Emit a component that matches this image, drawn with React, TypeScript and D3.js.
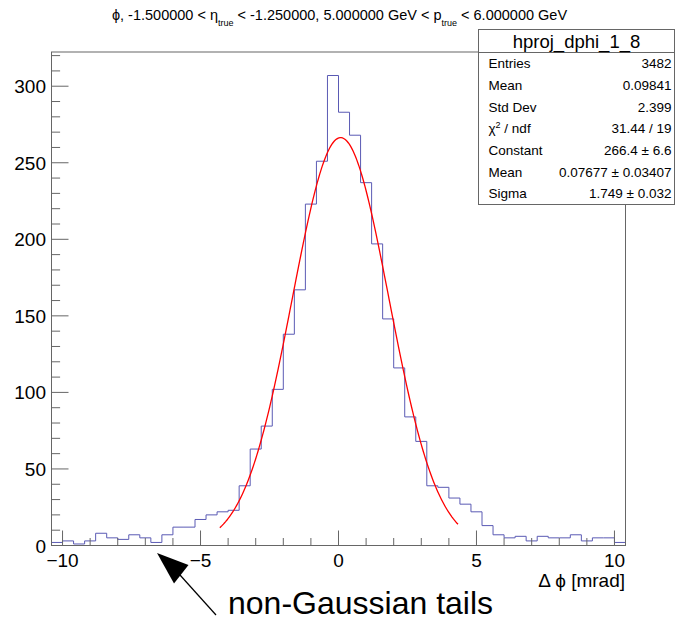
import React from "react";
import * as d3 from "d3";

// ---- data ----
const xMin = -10.4;
const xMax = 10.4;
const binWidth = 0.4;
const counts = [
  2, 3, 1, 3, 8, 5, 4, 7, 5, 2, 7, 12, 12, 17, 20, 22, 23, 39, 63, 78, 102, 138,
  167, 223, 251, 307, 283, 268, 237, 197, 148, 116, 84, 68, 39, 38, 31, 27, 22,
  13, 7, 5, 6, 3, 6, 5, 5, 7, 3, 5, 5, 2,
];
const yMax = 322.35;
const yMajorTicks = [0, 50, 100, 150, 200, 250, 300];
const xMajorTicks = [-10, -5, 0, 5, 10];
const xTickLabels = ["\u221210", "\u22125", "0", "5", "10"];

const fitConstant = 266.4;
const fitMean = 0.07677;
const fitSigma = 1.749;
const fitRange = [-4.3, 4.33];

const statsTitle = "hproj_dphi_1_8";
const statsLabels = ["Entries", "Mean", "Std Dev", "CHI", "Constant", "Mean", "Sigma"];
const statsValues = [
  "3482",
  "0.09841",
  "2.399",
  "31.44 / 19",
  "266.4 \u00b1 6.6",
  "0.07677 \u00b1 0.03407",
  "1.749 \u00b1 0.032",
];

const W = 676;
const H = 621;
const FONT = "'Liberation Sans', Arial, Helvetica, sans-serif";

export default function App() {
  const frame = { left: 51.5, right: 625.5, top: 52, bottom: 545.5 };
  const x = d3.scaleLinear().domain([xMin, xMax]).range([frame.left, frame.right]);
  const y = d3.scaleLinear().domain([0, yMax]).range([frame.bottom, frame.top]);

  const pts: [number, number][] = [];
  counts.forEach((c, i) => {
    const lo = xMin + i * binWidth;
    pts.push([lo, c]);
    pts.push([lo + binWidth, c]);
  });
  const line = d3
    .line<[number, number]>()
    .x((d) => x(d[0]))
    .y((d) => y(d[1]));
  const histPath = line(pts) || "";

  const fitPts: [number, number][] = d3
    .range(0, 201)
    .map((k) => {
      const xv = fitRange[0] + ((fitRange[1] - fitRange[0]) * k) / 200;
      const z = (xv - fitMean) / fitSigma;
      return [xv, fitConstant * Math.exp(-0.5 * z * z)] as [number, number];
    });
  const fitPath = line(fitPts) || "";

  const yMinor = d3.range(0, yMax, 10).filter((v) => v % 50 !== 0);
  const xMinor = d3.range(-10, 10.001, 1).filter((v) => Math.abs(v) % 5 !== 0);

  const axisColor = "#666";
  const box = { left: 478.5, right: 674.5, top: 29.5, header: 52.5, bottom: 204.5 };
  const rowH = (box.bottom - box.header) / statsLabels.length;

  return (
    <div style={{ position: "absolute", left: 0, top: 0 }}>
      <svg width={W} height={H} style={{ display: "block", background: "#fff" }} fontFamily={FONT}>
        <rect x={0} y={0} width={W} height={H} fill="#fff" />
        {/* title */}
        <text x={339.5} y={20} textAnchor="middle" fontSize={14.5} fill="#000">
          {"\u03d5, -1.500000 < \u03b7"}
          <tspan dy={6} fontSize={9}>true</tspan>
          <tspan dy={-6}>{" < -1.250000, 5.000000 GeV < p"}</tspan>
          <tspan dy={6} fontSize={9}>true</tspan>
          <tspan dy={-6}>{" < 6.000000 GeV"}</tspan>
        </text>

        {/* histogram */}
        <path d={histPath} fill="none" stroke="#5a5ab4" strokeWidth={1} />
        {/* fit */}
        <path d={fitPath} fill="none" stroke="#ff0000" strokeWidth={1.3} />

        {/* frame */}
        <rect
          x={frame.left}
          y={frame.top}
          width={frame.right - frame.left}
          height={frame.bottom - frame.top}
          fill="none"
          stroke={axisColor}
          strokeWidth={1}
        />
        {/* y ticks */}
        {yMajorTicks.map((v) => (
          <g key={"ym" + v}>
            <line x1={frame.left} x2={frame.left + 17} y1={y(v)} y2={y(v)} stroke={axisColor} />
            <text x={46} y={y(v) + 7} textAnchor="end" fontSize={19} fill="#000">
              {v}
            </text>
          </g>
        ))}
        {yMinor.map((v) => (
          <line key={"yn" + v} x1={frame.left} x2={frame.left + 8.6} y1={y(v)} y2={y(v)} stroke={axisColor} />
        ))}
        {/* x ticks */}
        {xMajorTicks.map((v, i) => (
          <g key={"xm" + v}>
            <line x1={x(v)} x2={x(v)} y1={frame.bottom} y2={frame.bottom - 15} stroke={axisColor} />
            <text x={x(v)} y={567} textAnchor="middle" fontSize={19} fill="#000">
              {xTickLabels[i]}
            </text>
          </g>
        ))}
        {xMinor.map((v) => (
          <line key={"xn" + v} x1={x(v)} x2={x(v)} y1={frame.bottom} y2={frame.bottom - 7.5} stroke={axisColor} />
        ))}
        <text x={625} y={587} textAnchor="end" fontSize={19} fill="#000">
          {"\u0394 \u03d5 [mrad]"}
        </text>

        {/* stats box */}
        <rect
          x={box.left}
          y={box.top}
          width={box.right - box.left}
          height={box.bottom - box.top}
          fill="#fff"
          stroke={axisColor}
          strokeWidth={1}
        />
        <line x1={box.left} x2={box.right} y1={box.header} y2={box.header} stroke={axisColor} />
        <text x={(box.left + box.right) / 2} y={47.5} textAnchor="middle" fontSize={18.5} fill="#000">
          {statsTitle}
        </text>
        {statsLabels.map((lab, i) => {
          const cy = box.header + rowH * (i + 0.5) + 4.8;
          return (
            <g key={"s" + i}>
              {lab === "CHI" ? (
                <text x={488.5} y={cy} fontSize={13.5} fill="#000">
                  {"\u03c7"}
                  <tspan dy={-5} fontSize={9}>2</tspan>
                  <tspan dy={5}>{" / ndf"}</tspan>
                </text>
              ) : (
                <text x={488.5} y={cy} fontSize={13.5} fill="#000">
                  {lab}
                </text>
              )}
              <text x={671.5} y={cy} textAnchor="end" fontSize={13.5} fill="#000">
                {statsValues[i]}
              </text>
            </g>
          );
        })}

        {/* annotation */}
        <line x1={216} y1={615} x2={180} y2={575} stroke="#000" strokeWidth={1.2} />
        <polygon points="157,553 174,583.5 188.5,565" fill="#000" />
        <text x={228} y={614} fontSize={32} fill="#000">
          non-Gaussian tails
        </text>
      </svg>
    </div>
  );
}
